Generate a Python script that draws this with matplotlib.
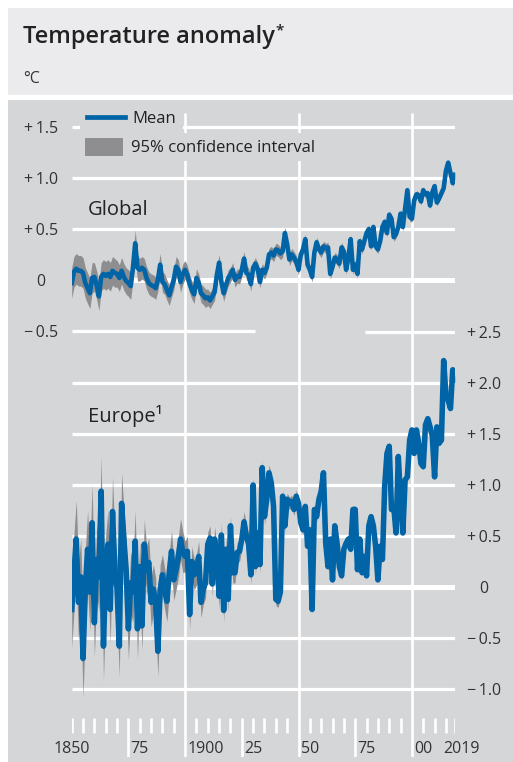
import numpy as np
import matplotlib
matplotlib.use("Agg")
import matplotlib.pyplot as plt
from matplotlib.lines import Line2D
from matplotlib.patches import Patch, Rectangle

plt.rcParams['font.family'] = ['Open Sans', 'DejaVu Sans']

# Annual anomalies, 1850-2019
years = np.arange(1850, 2020)

glob_mean = [
    -0.03, 0.08, 0.11, 0.09, 0.09, 0.07, -0.03, -0.08, -0.13, 0.02,
    0.03, -0.05, -0.16, 0.03, 0.06, 0.04, 0.06, 0.03, 0.09, 0.07,
    0.06, 0.02, 0.09, 0.03, -0.01, -0.03, -0.06, 0.12, 0.36, 0.12,
    0.10, 0.12, 0.10, 0.02, -0.03, -0.05, -0.06, -0.08, 0.00, 0.15,
    -0.02, -0.04, -0.10, -0.15, -0.07, 0.00, 0.13, 0.10, -0.02, 0.06,
    0.10, 0.05, -0.04, -0.10, -0.14, 0.02, -0.03, -0.13, -0.15, -0.18,
    -0.17, -0.20, -0.16, -0.12, 0.05, 0.17, -0.02, -0.13, -0.05, 0.02,
    0.05, 0.10, 0.00, 0.04, 0.03, 0.10, 0.21, 0.07, 0.05, -0.04,
    0.12, 0.16, 0.11, -0.02, 0.10, 0.07, 0.12, 0.25, 0.27, 0.24,
    0.30, 0.29, 0.26, 0.28, 0.46, 0.35, 0.20, 0.25, 0.22, 0.18,
    0.10, 0.25, 0.30, 0.40, 0.15, 0.10, 0.03, 0.27, 0.37, 0.30,
    0.27, 0.33, 0.31, 0.32, 0.06, 0.13, 0.22, 0.20, 0.16, 0.32,
    0.28, 0.10, 0.22, 0.40, 0.10, 0.15, 0.06, 0.38, 0.30, 0.38,
    0.46, 0.50, 0.33, 0.52, 0.33, 0.30, 0.38, 0.52, 0.57, 0.46,
    0.64, 0.60, 0.42, 0.45, 0.52, 0.65, 0.52, 0.70, 0.88, 0.62,
    0.60, 0.78, 0.84, 0.83, 0.77, 0.88, 0.84, 0.85, 0.73, 0.86,
    0.92, 0.76, 0.80, 0.85, 0.90, 1.07, 1.15, 1.05, 0.95, 1.03,
]

euro_mean = [
    -0.22, 0.14, 0.47, -0.15, 0.10, -0.70, -0.02, 0.37, -0.05, 0.63,
    -0.35, 0.27, 0.10, 0.94, -0.58, 0.17, 0.42, -0.22, 0.74, 0.17,
    -0.02, -0.58, 0.82, 0.47, 0.17, -0.41, 0.04, -0.05, 0.45, -0.41,
    0.20, -0.38, 0.42, 0.17, 0.24, -0.15, -0.02, -0.15, -0.63, -0.02,
    0.12, -0.02, -0.14, 0.14, 0.35, 0.07, 0.17, 0.29, 0.47, 0.34,
    0.30, 0.35, -0.27, 0.25, 0.12, 0.17, 0.30, -0.15, -0.02, 0.04,
    0.42, 0.48, 0.03, 0.47, 0.30, -0.09, 0.51, -0.23, 0.37, -0.12,
    0.60, 0.14, 0.14, 0.34, 0.35, 0.47, 0.64, 0.50, 0.42, 0.12,
    1.00, 0.20, 0.53, 0.22, 1.17, 0.69, 0.86, 1.12, 1.02, 0.79,
    -0.12, -0.14, -0.05, 0.89, 0.60, 0.86, 0.82, 0.84, 0.76, 0.89,
    0.82, 0.63, 0.56, 0.79, 0.40, 0.56, -0.22, 0.76, 0.69, 0.86,
    0.94, 1.12, 0.43, 0.20, 0.47, 0.07, 0.60, 0.43, 0.20, 0.11,
    0.37, 0.43, 0.47, 0.37, 0.76, 0.76, 0.17, 0.47, 0.14, 0.30,
    0.11, 0.60, 0.69, 0.60, 0.40, 0.07, 0.40, 0.27, 0.99, 1.31,
    1.38, 0.76, 0.79, 0.53, 1.28, 0.86, 0.53, 1.05, 1.08, 1.44,
    1.54, 1.31, 1.54, 1.41, 1.21, 1.18, 1.59, 1.65, 1.57, 1.48,
    1.08, 1.57, 1.41, 1.44, 2.22, 1.88, 1.83, 1.75, 2.13, 2.03,
]

# half-width of the 95% interval, one value per decade (1850s ... 2010s)
glob_ci = [0.15, 0.14, 0.13, 0.11, 0.10, 0.09, 0.08, 0.07, 0.06, 0.06,
           0.05, 0.05, 0.045, 0.04, 0.04, 0.035, 0.035]
euro_ci = [0.38, 0.34, 0.30, 0.24, 0.20, 0.15, 0.12, 0.10, 0.08, 0.06,
           0.05, 0.04, 0.035, 0.03, 0.03, 0.03, 0.03]

glob_ticks = [1.5, 1.0, 0.5, 0.0, -0.5]
glob_labels = ['+\u20091.5', '+\u20091.0', '+\u20090.5', '0', '\u2212\u20090.5']
euro_ticks = [2.5, 2.0, 1.5, 1.0, 0.5, 0.0, -0.5, -1.0]
euro_labels = ['+\u20092.5', '+\u20092.0', '+\u20091.5', '+\u20091.0', '+\u20090.5', '0',
               '\u2212\u20090.5', '\u2212\u20091.0']
x_label_years = [1850, 1875, 1900, 1925, 1950, 1975, 2000, 2019]
x_labels = ['1850', '75', '1900', '25', '50', '75', '00', '2019']

BLUE = '#0064a6'
BAND = '#8e8e90'
PANEL = '#d5d6d8'
HEAD = '#ebebed'
TXT = '#222222'

W, H = 513, 762
fig = plt.figure(figsize=(W / 100, H / 100), dpi=100)

# header and panel backgrounds
fig.patches.append(Rectangle((8 / W, 1 - 95 / H), 1, 87 / H, transform=fig.transFigure,
                             facecolor=HEAD, edgecolor='none', zorder=-2))
fig.patches.append(Rectangle((8 / W, 0), 1, 1 - 100 / H, transform=fig.transFigure,
                             facecolor=PANEL, edgecolor='none', zorder=-2))

title = fig.text(23 / W, 1 - 43 / H, 'Temperature anomaly', fontsize=17,
                 color=TXT, va='baseline', ha='left', fontweight='semibold')
fig.text(23 / W, 1 - 83 / H, '°C', fontsize=11.5, color='#333333', va='baseline')
star = fig.text(0, 0, '*', fontsize=11, color=TXT, ha='left', va='top', fontweight='semibold')

ax = fig.add_axes([71.7 / W, 5 / H, (455 - 71.7) / W, 644 / H])
ax.set_facecolor('none')
for s in ax.spines.values():
    s.set_visible(False)

px_per_unit = 102.0
g_lo = (280 - 757) / px_per_unit
g_hi = (280 - 113) / px_per_unit
offset = 3.01
ax.set_xlim(1850, 2019)
ax.set_ylim(g_lo, g_hi)

ax2 = ax.twinx()
ax2.set_ylim(g_lo + offset, g_hi + offset)
ax2.set_facecolor('none')
for s in ax2.spines.values():
    s.set_visible(False)

# white grid
lw_grid = 2.3
lw_zero = 3.6
ax.hlines([1.5, 1.0, 0.5], 1850, 2019, colors='white', lw=lw_grid, zorder=1)
ax.hlines(0, 1850, 2019, colors='white', lw=lw_zero, zorder=1)
ax.hlines(-0.5, 1850, 1931, colors='white', lw=lw_grid, zorder=1)
ax2.hlines([2.0, 1.5, 1.0, 0.5, -0.5, -1.0], 1850, 2019, colors='white', lw=lw_grid, zorder=1)
ax2.hlines(0, 1850, 2019, colors='white', lw=lw_zero, zorder=1)
ax2.hlines(2.5, 1979.5, 2019, colors='white', lw=lw_grid, zorder=1)

xt = ax.get_xaxis_transform()
tick_short = [y for y in list(range(1850, 2016, 5)) + [2019] if y % 25 != 0]
tick_long = [1875, 1925, 1975]
tick_major = [1900, 1950, 2000]
t_lo, t_hi = (757 - 733) / 644, (757 - 718) / 644
ax.vlines([1850] + tick_short, t_lo, t_hi, transform=xt, colors='white', lw=1.9, zorder=1)
ax.vlines(tick_long, 0, t_hi, transform=xt, colors='white', lw=1.9, zorder=1)
ax.vlines(tick_major, 0, 1, transform=xt, colors='white', lw=1.9, zorder=1)

for yr, lab in zip(x_label_years, x_labels):
    if yr == 1850:
        ha, dx = 'center', 0
    elif yr == 2019:
        ha, dx = 'center', 6
    else:
        ha, dx = 'left', 2
    ax.annotate(lab, xy=(yr, (757 - 749) / 644), xycoords=xt, xytext=(dx, 0),
                textcoords='offset pixels', ha=ha, va='center', fontsize=11.5,
                color='#333333', annotation_clip=False)

# data
g = np.array(glob_mean)
e = np.array(euro_mean)
g_hw = np.repeat(glob_ci, 10)[:len(years)]
e_hw = np.repeat(euro_ci, 10)[:len(years)]
ax.fill_between(years, g - g_hw, g + g_hw, color=BAND, lw=0, zorder=2)
ax.plot(years, g, color=BLUE, lw=3.3, zorder=3, solid_joinstyle='round')
ax2.fill_between(years, e - e_hw, e + e_hw, color=BAND, lw=0, zorder=2)
ax2.plot(years, e, color=BLUE, lw=4.0, zorder=3, solid_joinstyle='round')

# y labels, centred in their margins
ax.set_yticks(glob_ticks, glob_labels)
ax.tick_params(axis='y', length=0, pad=30.7 * 0.72, labelsize=11.5, labelcolor='#333333')
for t in ax.get_yticklabels():
    t.set_ha('center')
ax2.set_yticks(euro_ticks, euro_labels)
ax2.tick_params(axis='y', length=0, pad=29 * 0.72, labelsize=11.5, labelcolor='#333333')
for t in ax2.get_yticklabels():
    t.set_ha('center')
ax.set_xticks([])

ax.text(1857, 0.69, 'Global', fontsize=14.5, color=TXT, va='center', ha='left', zorder=4)
ax2.text(1857, 1.68, 'Europe\u00b9', fontsize=14.5, color=TXT, va='center', ha='left', zorder=4)

# legend, one row per box so the grid shows around it
leg1 = ax2.legend([Line2D([], [], color=BLUE, lw=3.4)], ['Mean'], loc='center left',
                  bbox_to_anchor=(80 / W, 1 - 119 / H), bbox_transform=fig.transFigure,
                  frameon=True, facecolor=PANEL, edgecolor='none', framealpha=1,
                  fancybox=False, fontsize=12, handlelength=2.28, handletextpad=0.46,
                  borderpad=0.4, borderaxespad=0, labelcolor=TXT)
ax2.add_artist(leg1)
ax2.legend([Patch(facecolor=BAND, edgecolor='none')], ['95% confidence interval'],
           loc='center left', bbox_to_anchor=(80 / W, 1 - 147 / H),
           bbox_transform=fig.transFigure, frameon=True, facecolor=PANEL,
           edgecolor='none', framealpha=1, fancybox=False, fontsize=12,
           handlelength=2.28, handleheight=1.35, handletextpad=0.46,
           borderpad=0.3, borderaxespad=0, labelcolor=TXT)

# asterisk sits at the top right of the title
fig.canvas.draw()
bb = title.get_window_extent()
star.set_position(((bb.x1 + 1) / W, (bb.y1 + 2) / H))

fig.savefig('out.png', dpi=100)
